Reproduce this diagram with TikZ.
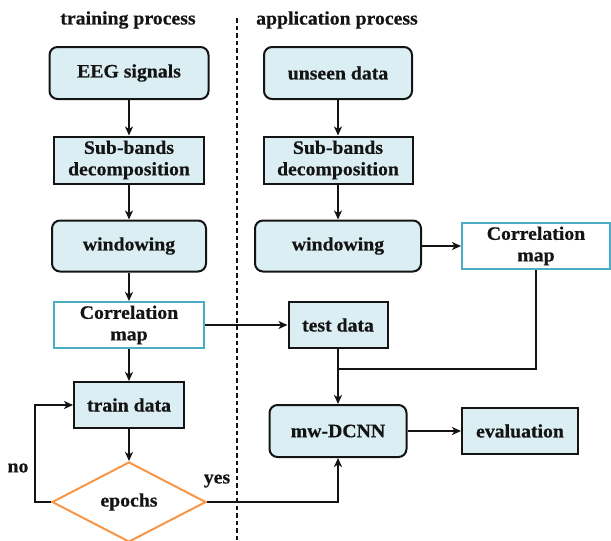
\documentclass[tikz,border=0pt]{standalone}
\usepackage{fontspec}
\setmainfont{Liberation Serif}[FakeStretch=1.04]
\newfontfamily\labelfont{Liberation Serif}[FakeStretch=1.04, BoldFeatures={FakeBold=0.6}]
\usetikzlibrary{shapes.geometric,arrows.meta}

\definecolor{boxfill}{HTML}{DAEEF3}
\definecolor{mapedge}{HTML}{4BACC6}
\definecolor{decedge}{HTML}{F79646}
\definecolor{ink}{HTML}{141414}

\tikzset{
  lbl/.style={font=\labelfont\fontsize{19}{21.5}\selectfont\bfseries, text=ink, align=center},
  procbox/.style={lbl, draw=ink, line width=2pt, fill=boxfill, inner sep=0pt},
  roundbox/.style={procbox, rounded corners=8pt},
  mapbox/.style={lbl, draw=mapedge, line width=2pt, fill=white, inner sep=0pt},
  decision/.style={lbl, diamond, draw=decedge, line width=2pt, fill=white,
    inner sep=0pt, aspect=1.925},
  flow/.style={draw=ink, line width=2pt,
    -{Stealth[length=9pt,width=8pt,inset=2.5pt]}},
  plain/.style={draw=ink, line width=2pt},
  divider/.style={draw=ink, line width=1.3pt, dash pattern=on 4.5pt off 3pt}
}

\begin{document}
\begin{tikzpicture}[x=1pt,y=-1pt]
\useasboundingbox (0,0) rectangle (611,541);

% column headings and divider
\node[lbl] (htrain) at (128,20) {training process};
\node[lbl] (happly) at (337,20) {application process};
\coordinate (divtop) at (237,18);
\coordinate (divbot) at (237,541);
\draw[divider] (divtop) -- (divbot);

% training column
\node[roundbox, minimum width=159pt, minimum height=52pt] (eeg) at (129,73) {EEG signals};
\node[procbox, minimum width=150pt, minimum height=47pt] (subL) at (129,160) {Sub-bands\\decomposition};
\node[roundbox, minimum width=154pt, minimum height=51pt] (winL) at (129,246) {windowing};
\node[mapbox, minimum width=150pt, minimum height=46pt] (corrL) at (129,325) {Correlation\\map};
\node[procbox, minimum width=110pt, minimum height=46pt] (train) at (129,405) {train data};
\node[decision, minimum width=154pt, minimum height=80pt] (epochs) at (129,502) {epochs};

% application column
\node[roundbox, minimum width=148pt, minimum height=52pt] (unseen) at (338,73) {unseen data};
\node[procbox, minimum width=149pt, minimum height=47pt] (subR) at (338,160) {Sub-bands\\decomposition};
\node[roundbox, minimum width=166pt, minimum height=51pt] (winR) at (338,246) {windowing};
\node[mapbox, minimum width=148pt, minimum height=46pt] (corrR) at (536,246) {Correlation\\map};
\node[procbox, minimum width=99pt, minimum height=46pt] (test) at (338,325) {test data};
\node[roundbox, minimum width=137pt, minimum height=52pt] (mw) at (338,431) {mw-DCNN};
\node[procbox, minimum width=116pt, minimum height=46pt] (eval) at (520,431) {evaluation};

% branch labels
\node[lbl] (nolbl) at (18,468) {no};
\node[lbl] (yeslbl) at (217,481) {yes};

% training flow
\draw[flow] (eeg) -- (subL);
\draw[flow] (subL) -- (winL);
\draw[flow] (winL) -- (corrL);
\draw[flow] (corrL) -- (train);
\draw[flow] (train) -- (epochs);
\coordinate (loopturn) at (35,502);
\draw[flow] (epochs.west) -- (loopturn) |- (train.west);
\draw[flow] (epochs.east) -| (mw.south);

% application flow
\draw[flow] (unseen) -- (subR);
\draw[flow] (subR) -- (winR);
\draw[flow] (winR) -- (corrR);
\draw[flow] (corrL) -- (test);
\draw[flow] (test) -- (mw);
\coordinate (join) at (338,369);
\draw[plain] (corrR.south) |- (join);
\draw[flow] (mw) -- (eval);
\end{tikzpicture}
\end{document}
